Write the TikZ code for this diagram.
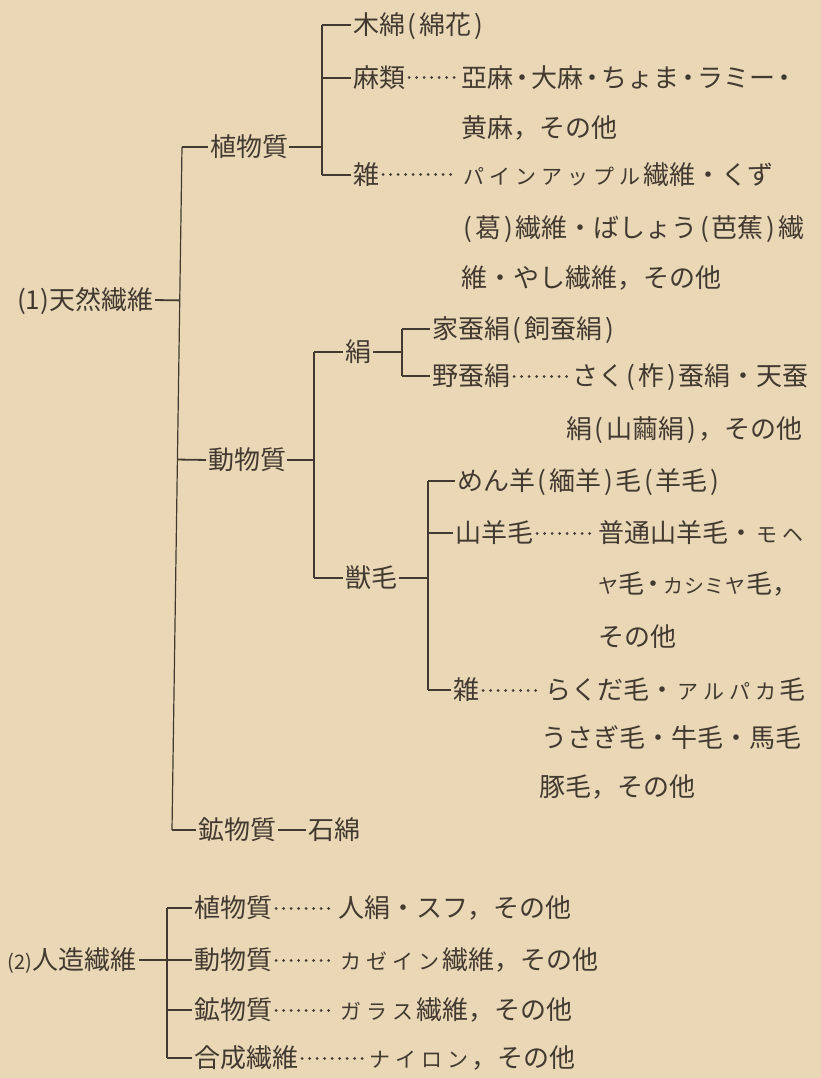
\documentclass[tikz,border=0pt]{standalone}
\usepackage{fontspec}
\setmainfont{Noto Sans CJK JP}
\usetikzlibrary{calc}
\definecolor{paper}{RGB}{233,215,182}
\definecolor{ink}{RGB}{66,57,48}
\newcommand\sk[1]{\makebox[1em][c]{\fontsize{21pt}{21pt}\selectfont #1}}
\newcommand\skn[1]{\makebox[0.8em][c]{\fontsize{20pt}{20pt}\selectfont #1}}
\newcommand\md{\makebox[0.7em][c]{・}}
\newcommand\lp{\makebox[0.55em][c]{(}}
\newcommand\rp{\makebox[0.55em][c]{)}}
\begin{document}
\begin{tikzpicture}[x=1pt,y=-1pt,
  t/.style={anchor=west,inner sep=0pt,outer sep=0pt,text=ink,
    font=\fontsize{26pt}{26pt}\selectfont,text height=22.9pt,text depth=3.1pt},
  br/.style={draw=ink,line width=1.2pt},
  dsh/.style={draw=ink,line width=1.8pt},
  dots/.style={draw=ink,line width=3pt,line cap=round,
    dash pattern=on 0.01pt off 7.5pt,shorten <=4pt,shorten >=3pt}]
\fill[paper] (0,0) rectangle (821,1078);
\useasboundingbox (0,0) rectangle (821,1078);
% ---------- (1) natural fibres ----------
\node[t] (nat) at (17,300) {(1)天然繊維};
\coordinate (mt) at (182,147);
\coordinate (mb) at (172,830);
\draw[br] (mt) -- (mb);
\draw[dsh,shorten <=2pt] (nat.east) -- ($(mt)!(nat.east)!(mb)$);
% plant
\node[t] (pl) at (210,147) {植物質};
\draw[dsh,shorten >=2pt] (mt) -- (pl.west);
\coordinate (pt) at (322,25);
\coordinate (pb) at (322,175);
\draw[br] (pt) -- (pb);
\draw[dsh,shorten <=1pt] (pl.east) -- (pl.east -| pt);
\node[t] (men) at (353,25) {木綿\lp 綿花\rp};
\draw[dsh,shorten >=2pt] (pt) -- (men.west);
\node[t] (asa) at (353,78) {麻類};
\draw[dsh,shorten >=2pt] (asa.west -| pt) -- (asa.west);
\node[t] (asad) at (461,78) {亞麻\md 大麻\md ちょま\md ラミー\md};
\draw[dots] (asa.east) -- (asad.west);
\node[t] (asad2) at (461,128) {黄麻，その他};
\node[t] (zp) at (353,175) {雑};
\draw[dsh,shorten >=2pt] (pb) -- (zp.west);
\node[t] (zpd) at (461,175) {\sk{パ}\sk{イ}\sk{ン}\sk{ア}\sk{ッ}\sk{プ}\sk{ル}繊維・くず};
\draw[dots] (zp.east) -- (zpd.west);
\node[t] (zpd2) at (461,228) {\lp 葛\rp 繊維・ばしょう\lp 芭蕉\rp 繊};
\node[t] (zpd3) at (461,278) {維・やし繊維，その他};
% animal
\node[t] (an) at (208,460) {動物質};
\draw[dsh,shorten >=2pt] ($(mt)!(an.west)!(mb)$) -- (an.west);
\coordinate (at) at (314,352);
\coordinate (ab) at (314,578);
\draw[br] (at) -- (ab);
\draw[dsh,shorten <=1pt] (an.east) -- (an.east -| at);
\node[t] (ki) at (345,352) {絹};
\draw[dsh,shorten >=2pt] (at) -- (ki.west);
\coordinate (kt) at (402,329);
\coordinate (kb) at (402,376);
\draw[br] (kt) -- (kb);
\draw[dsh,shorten <=2pt] (ki.east) -- (ki.east -| kt);
\node[t] (ka) at (432,329) {家蚕絹\lp 飼蚕絹\rp};
\draw[dsh,shorten >=2pt] (kt) -- (ka.west);
\node[t] (ya) at (432,376) {野蚕絹};
\draw[dsh,shorten >=2pt] (kb) -- (ya.west);
\node[t] (yad) at (572,376) {さく\lp 柞\rp 蚕絹・天蚕};
\draw[dots] (ya.east) -- (yad.west);
\node[t] (yad2) at (566,429) {絹\lp 山繭絹\rp，その他};
\node[t] (ju) at (345,578) {獣毛};
\draw[dsh,shorten >=2pt] (ab) -- (ju.west);
\coordinate (wt) at (428,481);
\coordinate (wb) at (428,690);
\draw[br] (wt) -- (wb);
\draw[dsh,shorten <=2pt] (ju.east) -- (ju.east -| wt);
\node[t] (me) at (457,481) {めん羊\lp 緬羊\rp 毛\lp 羊毛\rp};
\draw[dsh,shorten >=2pt] (wt) -- (me.west);
\node[t] (sy) at (455,533) {山羊毛};
\draw[dsh,shorten >=2pt] (sy.west -| wt) -- (sy.west);
\node[t] (syd) at (598,533) {普通山羊毛・\sk{モ}\sk{ヘ}};
\draw[dots] (sy.east) -- (syd.west);
\node[t] (syd2) at (598,584) {\skn{ヤ}毛\md\skn{カ}\skn{シ}\skn{ミ}\skn{ヤ}毛，};
\node[t] (syd3) at (598,637) {その他};
\node[t] (zj) at (453,690) {雑};
\draw[dsh,shorten >=2pt] (wb) -- (zj.west);
\node[t] (zjd) at (545,690) {らくだ毛・\sk{ア}\sk{ル}\sk{パ}\sk{カ}毛};
\draw[dots] (zj.east) -- (zjd.west);
\node[t] (zjd2) at (541,738) {うさぎ毛・牛毛・馬毛};
\node[t] (zjd3) at (539,787) {豚毛，その他};
% mineral
\node[t] (mi) at (198,830) {鉱物質};
\draw[dsh,shorten >=2pt] (mb) -- (mi.west);
\node[t] (se) at (308,830) {石綿};
\draw[dsh,shorten <=2pt,shorten >=2pt] (mi.east) -- (se.west);
% ---------- (2) man-made fibres ----------
\node[t] (art) at (8,960) {{\fontsize{20pt}{20pt}\selectfont(2)}人造繊維};
\coordinate (rt) at (167,908);
\coordinate (rb) at (167,1058);
\draw[br] (rt) -- (rb);
\draw[dsh,shorten <=2pt] (art.east) -- (art.east -| rt);
\node[t] (r1) at (194,908) {植物質};
\node[t] (r1d) at (338,908) {人絹・スフ，その他};
\draw[dsh,shorten >=2pt] (rt) -- (r1.west);
\draw[dots] (r1.east) -- (r1d.west);
\node[t] (r2) at (194,960) {動物質};
\node[t] (r2d) at (338,960) {\sk{カ}\sk{ゼ}\sk{イ}\sk{ン}繊維，その他};
\draw[dsh,shorten >=2pt] (r2.west -| rt) -- (r2.west);
\draw[dots] (r2.east) -- (r2d.west);
\node[t] (r3) at (194,1010) {鉱物質};
\node[t] (r3d) at (338,1010) {\sk{ガ}\sk{ラ}\sk{ス}繊維，その他};
\draw[dsh,shorten >=2pt] (r3.west -| rt) -- (r3.west);
\draw[dots] (r3.east) -- (r3d.west);
\node[t] (r4) at (194,1058) {合成繊維};
\node[t] (r4d) at (367,1058) {\sk{ナ}\sk{イ}\sk{ロ}\sk{ン}，その他};
\draw[dsh,shorten >=2pt] (rb) -- (r4.west);
\draw[dots] (r4.east) -- (r4d.west);
\end{tikzpicture}
\end{document}
